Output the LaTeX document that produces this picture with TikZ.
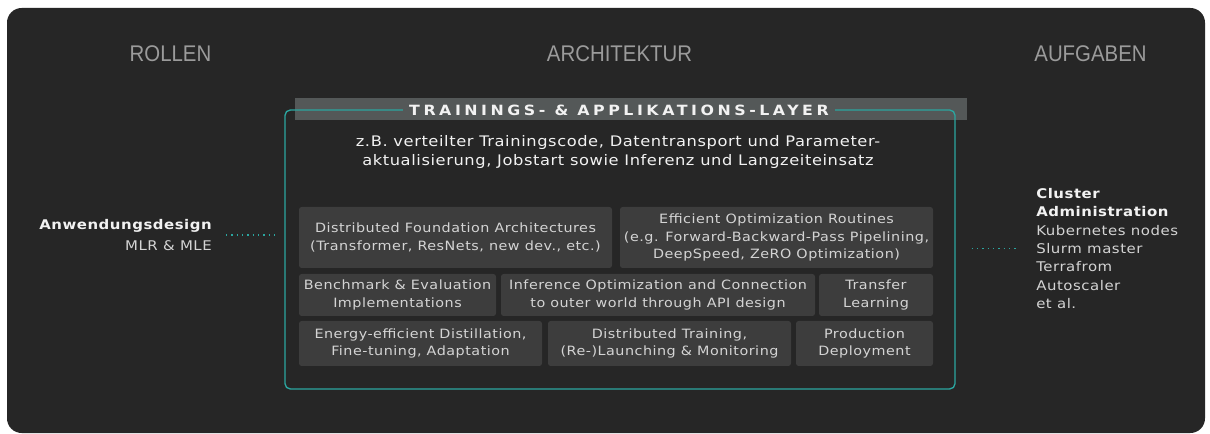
\documentclass[tikz,border=0pt]{standalone}
\usepackage{fontspec}
\usepackage{xcolor}
\setmainfont{DejaVu Sans}[FakeStretch=1.12,LetterSpace=4]
\newfontfamily\headfont{Liberation Sans}[FakeStretch=0.9]
\newfontfamily\titlefont{DejaVu Sans}[FakeStretch=1.12,LetterSpace=25]

\definecolor{panelbg}{RGB}{38,38,38}
\definecolor{tilebg}{RGB}{61,61,61}
\definecolor{bannerbg}{RGB}{84,88,88}
\definecolor{layerteal}{RGB}{43,166,160}
\definecolor{headgray}{RGB}{155,155,155}
\definecolor{tiletext}{RGB}{212,212,212}
\definecolor{lighttext}{RGB}{242,242,242}

\begin{document}
\begin{tikzpicture}[x=0.75pt,y=0.75pt,yscale=-1,xscale=1,
    tile/.style={fill=tilebg, rounded corners=2pt},
    tilelabel/.style={inner sep=0.75pt, align=center, text=tiletext, font=\fontsize{9.6}{12.8}\selectfont},
    header/.style={inner sep=0.75pt, text=headgray, font=\headfont\fontsize{17}{20}\selectfont},
    dotlink/.style={layerteal, line width=1pt, dash pattern=on 1pt off 3pt}]
        \useasboundingbox (0,0) rectangle (1210,434);
        \fill [white] (0,0) rectangle (1210,434);
        \fill [panelbg, rounded corners=11pt] (7,8) rectangle (1205,433);
        \fill [bannerbg] (295,98) rectangle (967,120);
        \draw (620,249.5) node (layer) [draw=layerteal, line width=1pt, rounded corners=4pt, minimum width=502.5pt, minimum height=209.25pt, inner sep=0pt] {};

        \fill [tile] (299,207) rectangle (612,268);
        \fill [tile] (620,207) rectangle (933,268);
        \fill [tile] (299,274) rectangle (496,316);
        \fill [tile] (501,274) rectangle (815,316);
        \fill [tile] (819,274) rectangle (933,316);
        \fill [tile] (299,321) rectangle (542,366);
        \fill [tile] (548,321) rectangle (791,366);
        \fill [tile] (796,321) rectangle (933,366);

        \draw (170.5,53.5) node (rollen) [header] {ROLLEN};
        \draw (619.5,53.5) node (architektur) [header] {ARCHITEKTUR};
        \draw (1090.5,53.5) node (aufgaben) [header] {AUFGABEN};

        \draw (619,110) node (layertitle) [fill=bannerbg, inner xsep=5pt, inner ysep=1.5pt, text=lighttext, font=\titlefont\bfseries\fontsize{10.6}{12}\selectfont] {TRAININGS- \& APPLIKATIONS-LAYER};
        \draw (618,152) node (layerinfo) [inner sep=0.75pt, align=center, text=lighttext, font=\fontsize{10.9}{14.4}\selectfont] {z.B. verteilter Trainingscode, Datentransport und Parameter-\\aktualisierung, Jobstart sowie Inferenz und Langzeiteinsatz};

        \draw (455.5,237.5) node (foundation) [tilelabel] {Distributed Foundation Architectures\\(Transformer, ResNets, new dev., etc.)};
        \draw (776.5,237.5) node (optimization) [tilelabel] {Efficient Optimization Routines\\(e.g. Forward-Backward-Pass Pipelining,\\DeepSpeed, ZeRO Optimization)};
        \draw (397.5,295) node (benchmark) [tilelabel] {Benchmark \& Evaluation\\Implementations};
        \draw (658,295) node (inference) [tilelabel] {Inference Optimization and Connection\\to outer world through API design};
        \draw (876,295) node (transfer) [tilelabel] {Transfer\\Learning};
        \draw (420.5,343.5) node (distillation) [tilelabel] {Energy-efficient Distillation,\\Fine-tuning, Adaptation};
        \draw (669.5,343.5) node (training) [tilelabel] {Distributed Training,\\(Re-)Launching \& Monitoring};
        \draw (864.5,343.5) node (production) [tilelabel] {Production\\Deployment};

        \draw (213,235) node (roles) [anchor=east, inner sep=0.75pt, align=right, font=\fontsize{10}{15.5}\selectfont] {\textcolor{lighttext}{\bfseries Anwendungsdesign}\\\textcolor{tiletext}{MLR \& MLE}};
        \draw (1035,248.5) node (tasks) [anchor=west, inner sep=0.75pt, align=left, text=tiletext, font=\fontsize{10}{13.7}\selectfont] {\textcolor{lighttext}{\bfseries Cluster}\\\textcolor{lighttext}{\bfseries Administration}\\Kubernetes nodes\\Slurm master\\Terrafrom\\Autoscaler\\et al.};

        \draw [dotlink, shorten <=9.75pt, shorten >=7.5pt] (roles.east) -- (roles.east -| layer.west);
        \draw [dotlink, shorten <=12pt, shorten >=12pt] (layer.east |- tasks.west) -- (tasks.west);
\end{tikzpicture}
\end{document}
